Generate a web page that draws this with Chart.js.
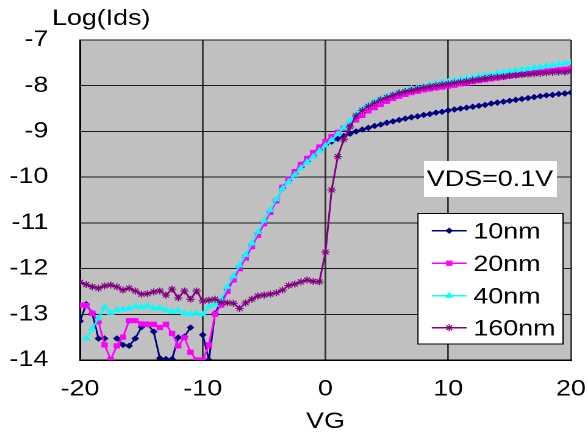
<!DOCTYPE html>
<html><head><meta charset="utf-8">
<script src="https://cdn.jsdelivr.net/npm/chart.js@4"></script>
<style>
html,body{margin:0;padding:0;background:#fff;overflow:hidden;width:588px;height:444px}
#wrap{position:absolute;left:0;top:0;width:482px;height:444px;transform:scaleX(1.22);transform-origin:0 0}
</style>
</head><body><div id="wrap"><canvas id="c"></canvas></div>
<script>
const vg = [-20,-19.5,-19,-18.5,-18,-17.5,-17,-16.5,-16,-15.5,
-15,-14.5,-14,-13.5,-13,-12.5,-12,-11.5,-11,-10.5,
-10,-9.5,-9,-8.5,-8,-7.5,-7,-6.5,-6,-5.5,
-5,-4.5,-4,-3.5,-3,-2.5,-2,-1.5,-1,-0.5,
0,0.5,1,1.5,2,2.5,3,3.5,4,4.5,
5,5.5,6,6.5,7,7.5,8,8.5,9,9.5,
10,10.5,11,11.5,12,12.5,13,13.5,14,14.5,
15,15.5,16,16.5,17,17.5,18,18.5,19,19.5,
20];
const ids10 = [-13.15,-12.78,-12.98,-13.53,-13.53,null,-13.53,-13.67,-13.69,-13.53,
-13.28,-13.22,-13.38,-13.96,-13.98,-13.98,-13.51,-13.49,-13.29,null,
-13.45,-14.0,-12.98,-12.72,-12.44,-12.2,-11.95,-11.72,-11.47,-11.22,
-10.97,-10.74,-10.5,-10.24,-10.07,-9.92,-9.78,-9.65,-9.52,-9.40,
-9.29,-9.22,-9.16,-9.10,-9.05,-9.0,-8.96,-8.92,-8.88,-8.85,
-8.81,-8.78,-8.75,-8.72,-8.69,-8.67,-8.64,-8.62,-8.59,-8.57,
-8.54,-8.52,-8.50,-8.48,-8.46,-8.44,-8.42,-8.39,-8.37,-8.35,
-8.33,-8.31,-8.29,-8.27,-8.25,-8.23,-8.21,-8.20,-8.18,-8.17,
-8.15];
const ids20 = [-12.80,-12.81,-12.98,-13.16,-13.67,-13.99,-13.69,-13.50,-13.14,-13.14,
-13.21,-13.22,-13.22,-13.29,-13.22,-13.42,-13.69,-13.51,-13.83,-14.0,
-14.0,-13.67,-13.0,-12.8,-12.5,-12.25,-12.0,-11.77,-11.52,-11.27,
-11.02,-10.77,-10.52,-10.22,-10.05,-9.88,-9.72,-9.59,-9.46,-9.34,
-9.22,-9.11,-9.02,-8.93,-8.84,-8.75,-8.65,-8.55,-8.48,-8.41,
-8.34,-8.28,-8.23,-8.19,-8.15,-8.12,-8.09,-8.07,-8.05,-8.03,
-8.01,-7.99,-7.96,-7.94,-7.91,-7.89,-7.87,-7.85,-7.83,-7.81,
-7.79,-7.77,-7.75,-7.73,-7.71,-7.70,-7.68,-7.67,-7.65,-7.64,
-7.62];
const ids40 = [null,-13.53,-13.31,-13.09,-12.85,-12.97,-12.91,-12.89,-12.87,-12.82,
-12.85,-12.81,-12.87,-12.86,-12.90,-12.95,-12.92,-12.98,-13.0,-12.97,
-13.0,-12.83,-12.78,-12.68,-12.40,-12.17,-11.93,-11.70,-11.45,-11.20,
-10.95,-10.72,-10.48,-10.25,-10.10,-9.95,-9.80,-9.67,-9.55,-9.43,
-9.31,-9.19,-9.06,-8.92,-8.77,-8.62,-8.50,-8.41,-8.34,-8.28,
-8.22,-8.18,-8.14,-8.10,-8.07,-8.04,-8.01,-7.98,-7.95,-7.93,
-7.91,-7.89,-7.86,-7.84,-7.82,-7.79,-7.77,-7.75,-7.73,-7.71,
-7.69,-7.67,-7.65,-7.63,-7.61,-7.59,-7.57,-7.55,-7.53,-7.51,
-7.49];
const ids160 = [-12.30,-12.35,-12.40,-12.43,-12.38,-12.36,-12.40,-12.47,-12.43,-12.49,
-12.56,-12.55,-12.51,-12.49,-12.58,-12.45,-12.64,-12.49,-12.67,-12.49,
-12.71,-12.69,-12.67,-12.74,-12.75,-12.76,-12.87,-12.75,-12.67,-12.60,
-12.58,-12.56,-12.53,-12.47,-12.37,-12.34,-12.29,-12.25,-12.28,-12.29,
-11.64,-10.28,-9.55,-9.17,-8.90,-8.66,-8.54,-8.45,-8.38,-8.31,
-8.26,-8.21,-8.16,-8.13,-8.10,-8.07,-8.04,-8.02,-8.00,-7.98,
-7.96,-7.94,-7.92,-7.90,-7.88,-7.86,-7.84,-7.82,-7.81,-7.80,
-7.78,-7.77,-7.76,-7.75,-7.74,-7.73,-7.72,-7.71,-7.70,-7.70,
-7.69];
const seriesNames = ['10nm','20nm','40nm','160nm'];
const xTicks = [-20,-10,0,10,20];
const yTicks = [-14,-13,-12,-11,-10,-9,-8,-7];
const yTitle = 'Log(Ids)';
const xTitle = 'VG';
const note = 'VDS=0.1V';

const colors = ['#000080','#FF00FF','#00FFFF','#800080'];
const styles = ['rectRot','rect','triangle','star'];
const radii = [2.5,3,3,3.5];
const allVals = [ids10, ids20, ids40, ids160];
const FONT = '"Liberation Sans", Arial, sans-serif';

const datasets = allVals.map((arr, i) => ({
  label: seriesNames[i],
  data: arr.map((v, k) => ({x: vg[k], y: v})),
  borderColor: colors[i],
  backgroundColor: colors[i],
  borderWidth: 1.5,
  pointStyle: styles[i],
  pointRadius: radii[i],
  pointBorderWidth: 1,
  pointBorderColor: colors[i],
  pointBackgroundColor: colors[i],
  tension: 0,
  spanGaps: false,
  order: 3 - i
}));

const deco = {
  id: 'deco',
  beforeDraw(chart) {
    const a = chart.chartArea, ctx = chart.ctx;
    ctx.save();
    ctx.fillStyle = '#C0C0C0';
    ctx.fillRect(a.left, a.top, a.right - a.left, a.bottom - a.top);
    ctx.restore();
  },
  afterDraw(chart) {
    const ctx = chart.ctx;
    ctx.save();
    ctx.font = '22px ' + FONT;
    ctx.fillStyle = '#000';
    ctx.textBaseline = 'alphabetic';
    ctx.textAlign = 'left';
    ctx.fillText(yTitle, 42.6, 25);
    // note box
    ctx.fillStyle = '#fff';
    ctx.fillRect(347.5, 161, 109, 36);
    ctx.fillStyle = '#000';
    ctx.textAlign = 'center';
    ctx.fillText(note, 401.6, 186);
    // legend
    ctx.fillStyle = '#fff';
    ctx.fillRect(342.6, 213, 118.9, 131);
    ctx.strokeStyle = '#000';
    ctx.lineWidth = 1;
    ctx.strokeRect(342.6, 213.5, 118.9, 130.5);
    const rows = [230.7, 263.3, 295.7, 327.7];
    for (let i = 0; i < 4; i++) {
      const y = rows[i];
      ctx.strokeStyle = colors[i];
      ctx.lineWidth = 1.5;
      ctx.beginPath(); ctx.moveTo(353.9, y); ctx.lineTo(382.5, y); ctx.stroke();
      if (Chart.helpers && Chart.helpers.drawPoint) {
        ctx.fillStyle = colors[i];
        ctx.lineWidth = 1;
        Chart.helpers.drawPoint(ctx, {pointStyle: styles[i], radius: radii[i], rotation: 0, borderWidth: 1}, 368.2, y);
      }
      ctx.fillStyle = '#000';
      ctx.textAlign = 'left';
      ctx.fillText(seriesNames[i], 388, y + 7.6);
    }
    ctx.restore();
  }
};

new Chart(document.getElementById('c'), {
  type: 'line',
  data: { datasets },
  plugins: [deco],
  options: {
    responsive: true,
    maintainAspectRatio: false,
    devicePixelRatio: 2,
    animation: false,
    layout: { padding: { left: 0, right: 14, top: 40, bottom: 0 } },
    plugins: { legend: { display: false }, tooltip: { enabled: false }, title: { display: false } },
    scales: {
      x: {
        type: 'linear', min: -20, max: 20,
        afterBuildTicks: s => { s.ticks = xTicks.map(v => ({value: v})); },
        afterFit: s => { s.height = 84; s.paddingLeft = 0; s.paddingRight = 0; },
        ticks: { color: '#000', font: { size: 22, family: FONT }, padding: 16, maxRotation: 0 },
        grid: { color: '#333', lineWidth: 1.4, drawTicks: false },
        border: { display: true, color: '#000', width: 1.5 },
        title: { display: true, text: xTitle, color: '#000', font: { size: 22, family: FONT }, padding: { top: 0, bottom: 9 } }
      },
      y: {
        min: -14, max: -7,
        afterBuildTicks: s => { s.ticks = yTicks.map(v => ({value: v})); },
        afterFit: s => { s.width = 65.6; s.paddingTop = 0; s.paddingBottom = 0; },
        ticks: { color: '#000', font: { size: 22, family: FONT }, padding: 26 },
        grid: { color: '#1a1a1a', lineWidth: 1, drawTicks: false },
        border: { display: true, color: '#000', width: 1.5 }
      }
    }
  }
});
</script>
</body></html>
